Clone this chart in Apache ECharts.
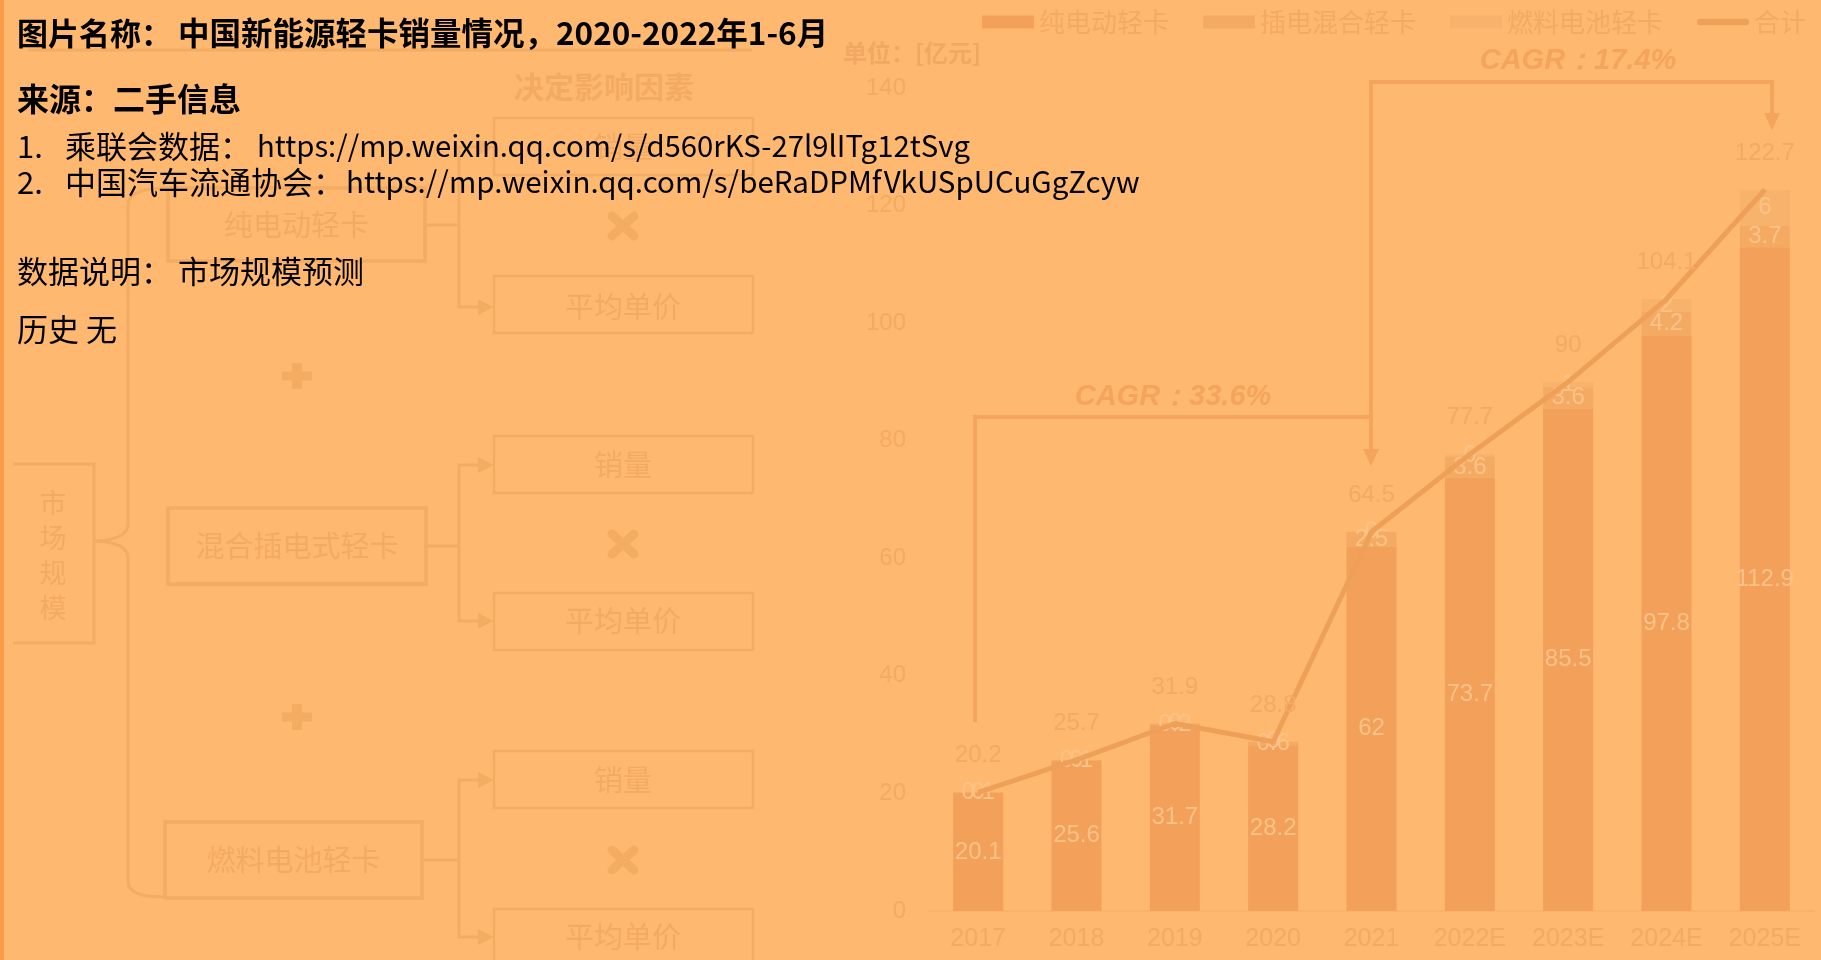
<!DOCTYPE html>
<html>
<head>
<meta charset="utf-8">
<script src="https://cdn.jsdelivr.net/npm/echarts@6/dist/echarts.min.js"></script>
<style>
  html, body { margin: 0; padding: 0; background: #FFB870; }
  #main { width: 1821px; height: 960px; }
</style>
</head>
<body>
<div id="main"></div>
<script>
// 数据
const categories = ['2017', '2018', '2019', '2020', '2021', '2022E', '2023E', '2024E', '2025E'];
const bevValues = [20.1, 25.6, 31.7, 28.2, 62, 73.7, 85.5, 97.8, 112.9];   // 纯电动轻卡
const phevValues = [0.1, 0.1, 0.2, 0.6, 2.5, 3.6, 3.6, 4.2, 3.7];         // 插电混合轻卡
const fcevValues = [0, 0, 0, 0, 0, 0.4, 0.9, 2.1, 6.1];                  // 燃料电池轻卡
const totalValues = [20.2, 25.7, 31.9, 28.8, 64.5, 77.7, 90, 104.1, 122.7]; // 合计
const yMin = 0, yMax = 140, yStep = 20;

const CJK = '"Noto Sans CJK SC", sans-serif';
const NUM = '"Liberation Sans", Arial, sans-serif';
const faded = '#F3AA62';
const stroke = '#F4AB62';
const labelLight = '#FCC388';

function txt(x, y, text, font, fill, align, z) {
  return {
    type: 'text', z: z || 1,
    style: { x: x, y: y, text: text, font: font, fill: fill,
      align: align || 'left', verticalAlign: 'middle',
      textAlign: align || 'left', textVerticalAlign: 'middle' }
  };
}
function box(x, y, w, h, lw) {
  return { type: 'rect', z: 1, shape: { x: x, y: y, width: w, height: h },
    style: { fill: null, stroke: stroke, lineWidth: lw || 3 } };
}
function line(points, lw, color) {
  return { type: 'polyline', z: 1, shape: { points: points },
    style: { fill: null, stroke: color || stroke, lineWidth: lw || 3 } };
}
function curve(x1, y1, cx, cy, x2, y2) {
  return { type: 'bezierCurve', z: 1, shape: { x1: x1, y1: y1, x2: x2, y2: y2, cpx1: cx, cpy1: cy },
    style: { fill: null, stroke: stroke, lineWidth: 3 } };
}
function arrowRight(x, y) {
  return { type: 'polygon', z: 1, shape: { points: [[x - 16, y - 8], [x, y], [x - 16, y + 8]] },
    style: { fill: stroke } };
}
function arrowDown(x, y, color) {
  return { type: 'polygon', z: 1, shape: { points: [[x - 8, y - 17], [x, y], [x + 8, y - 17]] },
    style: { fill: color } };
}
function plus(cx, cy) {
  return [
    { type: 'rect', z: 1, shape: { x: cx - 15, y: cy - 4.5, width: 30, height: 9 }, style: { fill: stroke } },
    { type: 'rect', z: 1, shape: { x: cx - 5, y: cy - 13, width: 10, height: 26 }, style: { fill: stroke } }
  ];
}
function cross(cx, cy) {
  return [
    { type: 'line', z: 1, shape: { x1: cx - 11, y1: cy - 10, x2: cx + 11, y2: cy + 10 }, style: { stroke: stroke, lineWidth: 9, lineCap: 'round' } },
    { type: 'line', z: 1, shape: { x1: cx + 11, y1: cy - 10, x2: cx - 11, y2: cy + 10 }, style: { stroke: stroke, lineWidth: 9, lineCap: 'round' } }
  ];
}

// 左侧示意图（淡化）
const diagram = [
  { type: 'rect', z: 5, shape: { x: 0, y: 0, width: 4, height: 960 }, style: { fill: '#FF9A45' } },
  line([[28, 50], [752, 50]], 3),
  txt(604, 87, '决定影响因素', 'bold 30px ' + CJK, faded, 'center'),
  // 市场规模
  line([[13, 464], [94, 464], [94, 643], [13, 643]], 3),
  txt(53, 503, '市', '27px ' + CJK, faded, 'center'),
  txt(53, 538, '场', '27px ' + CJK, faded, 'center'),
  txt(53, 573, '规', '27px ' + CJK, faded, 'center'),
  txt(53, 608, '模', '27px ' + CJK, faded, 'center'),
  // 大括号
  curve(168, 188, 128, 188, 128, 205),
  line([[128, 205], [128, 524]], 3),
  curve(128, 524, 128, 540, 94, 541),
  curve(94, 541, 128, 542, 128, 558),
  line([[128, 558], [128, 882]], 3),
  curve(128, 882, 128, 897, 165, 897)
];
const groups = [
  { label: '纯电动轻卡', bx: 168, by: 188, bw: 257, bh: 73, cy: 225, y1: 147, y2: 307, xy: 226, b1: 118, b2: 276 },
  { label: '混合插电式轻卡', bx: 168, by: 508, bw: 258, bh: 76, cy: 546, y1: 465, y2: 621, xy: 544, b1: 436, b2: 593 },
  { label: '燃料电池轻卡', bx: 165, by: 822, bw: 257, bh: 76, cy: 860, y1: 780, y2: 937, xy: 860, b1: 751, b2: 909 }
];
groups.forEach(g => {
  diagram.push(box(g.bx, g.by, g.bw, g.bh, 3.5));
  diagram.push(txt(g.bx + g.bw / 2, g.cy, g.label, '29px ' + CJK, faded, 'center'));
  diagram.push(line([[g.bx + g.bw, g.cy], [459, g.cy]], 3));
  diagram.push(line([[478, g.y1], [459, g.y1], [459, g.y2], [478, g.y2]], 3));
  diagram.push(arrowRight(494, g.y1));
  diagram.push(arrowRight(494, g.y2));
  diagram.push(box(494, g.b1, 259, 57, 2.5));
  diagram.push(box(494, g.b2, 259, 57, 2.5));
  diagram.push(txt(623, g.y1, '销量', '29px ' + CJK, faded, 'center'));
  diagram.push(txt(623, g.y2, '平均单价', '29px ' + CJK, faded, 'center'));
  diagram.push(...cross(623, g.xy));
});
diagram.push(...plus(297, 376));
diagram.push(...plus(297, 717));

// 图表注释
const cagrColor = '#F4A45C';
const notes = [
  txt(843, 53, '单位：[亿元]', 'bold 24px ' + CJK, '#F1A862', 'left'),
  line([[975, 722], [975, 417], [1371, 417]], 4, cagrColor),
  line([[1371, 449], [1371, 82], [1772, 82], [1772, 113]], 4, cagrColor),
  arrowDown(1371, 466, cagrColor),
  arrowDown(1772, 130, cagrColor),
  txt(1173, 397, 'CAGR：33.6%', 'italic bold 29px ' + NUM, cagrColor, 'center'),
  txt(1578, 61, 'CAGR：17.4%', 'italic bold 29px ' + NUM, cagrColor, 'center')
];

// 黑色说明文字
const info = [
  txt(17, 33, '图片名称：', 'bold 31px ' + CJK, '#000', 'left', 100),
  txt(178, 33, '中国新能源轻卡销量情况，2020-2022年1-6月', 'bold 31.5px ' + CJK, '#000', 'left', 100),
  txt(17, 99, '来源：二手信息', 'bold 32px ' + CJK, '#000', 'left', 100),
  txt(17, 146, '1.', '31px ' + CJK, '#000', 'left', 100),
  txt(65, 146, '乘联会数据：', '31px ' + CJK, '#000', 'left', 100),
  txt(257, 146, 'https://mp.weixin.qq.com/s/d560rKS-27l9lITg12tSvg', '29.3px ' + CJK, '#000', 'left', 100),
  txt(17, 182, '2.', '31px ' + CJK, '#000', 'left', 100),
  txt(65, 182, '中国汽车流通协会：', '31px ' + CJK, '#000', 'left', 100),
  txt(346, 182, 'https://mp.weixin.qq.com/s/beRaDPMfVkUSpUCuGgZcyw', '29.5px ' + CJK, '#000', 'left', 100),
  txt(17, 271, '数据说明：', '31px ' + CJK, '#000', 'left', 100),
  txt(178, 271, '市场规模预测', '31px ' + CJK, '#000', 'left', 100),
  txt(17, 329, '历史 无', '31px ' + CJK, '#000', 'left', 100)
];

const chart = echarts.init(document.getElementById('main'));
const barLabel = { show: true, position: 'inside', color: labelLight, fontSize: 24, fontFamily: NUM };
const lineColor = '#EFA058';
chart.setOption({
  backgroundColor: '#FFB870',
  animation: false,
  legend: {
    left: 982, top: 9, padding: 0, itemWidth: 52, itemHeight: 13, itemGap: 34,
    textStyle: { color: faded, fontSize: 26, fontFamily: CJK },
    data: [
      { name: '纯电动轻卡', icon: 'rect' },
      { name: '插电混合轻卡', icon: 'rect' },
      { name: '燃料电池轻卡', icon: 'rect' },
      { name: '合计', icon: 'path://M3.5,0 H52.5 A3.5,3.5 0 0 1 52.5,7 H3.5 A3.5,3.5 0 0 1 3.5,0 Z',
        itemStyle: { color: lineColor } }
    ]
  },
  grid: { left: 929, right: 7, top: 88, bottom: 49 },
  xAxis: {
    type: 'category', data: categories,
    axisLine: { lineStyle: { color: '#F8B26C', width: 2 } },
    axisTick: { show: false },
    axisLabel: { color: faded, fontSize: 25, fontFamily: NUM, margin: 16 }
  },
  yAxis: {
    type: 'value', min: yMin, max: yMax, interval: yStep,
    splitLine: { show: false }, axisLine: { show: false }, axisTick: { show: false },
    axisLabel: { color: faded, fontSize: 24, fontFamily: NUM, margin: 23 }
  },
  series: [
    { name: '纯电动轻卡', type: 'bar', stack: 'total', barWidth: 50, data: bevValues,
      itemStyle: { color: '#F2A05A' }, label: barLabel },
    { name: '插电混合轻卡', type: 'bar', stack: 'total', data: phevValues,
      itemStyle: { color: '#F4AA63' }, label: barLabel },
    { name: '燃料电池轻卡', type: 'bar', stack: 'total', data: fcevValues,
      itemStyle: { color: '#F7B26B' },
      label: Object.assign({}, barLabel, { formatter: p => Math.round(p.value) }) },
    { name: '合计', type: 'line', data: totalValues, symbol: 'circle', symbolSize: 1, z: 5,
      lineStyle: { color: lineColor, width: 5 }, itemStyle: { color: lineColor },
      label: { show: true, position: 'top', distance: 24, color: faded, fontSize: 24, fontFamily: NUM } }
  ],
  graphic: { elements: diagram.concat(notes, info) }
});
</script>
</body>
</html>
